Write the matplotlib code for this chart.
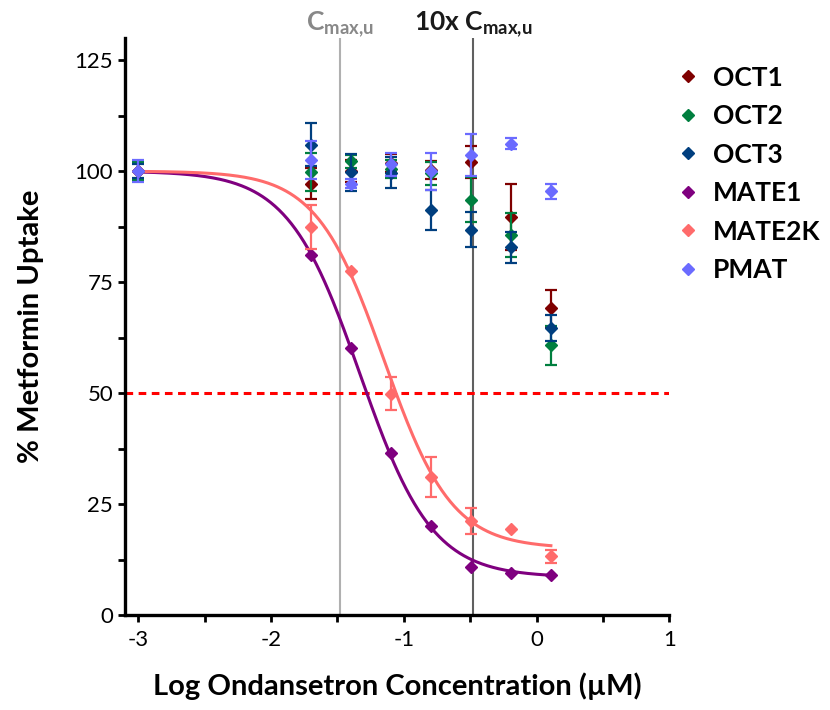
import numpy as np
import matplotlib
matplotlib.use("Agg")
import matplotlib.pyplot as plt
from matplotlib.lines import Line2D

plt.rcParams['font.family'] = ['Lato', 'DejaVu Sans']
plt.rcParams['mathtext.fontset'] = 'custom'
plt.rcParams['mathtext.rm'] = 'Lato'
plt.rcParams['mathtext.bf'] = 'Lato:bold'
plt.rcParams['mathtext.it'] = 'Lato:italic'

# log10 ondansetron concentration (uM)
log_conc = [-3.0, -1.699, -1.398, -1.097, -0.796, -0.495, -0.194, 0.107]

oct1 = [100.0, 97.2, 100.0, 101.9, 100.2, 102.0, 89.7, 69.1]
oct1_err = [2.0, 3.4, 2.5, 2.0, 2.0, 3.6, 7.5, 4.2]
oct2 = [100.0, 99.8, 102.2, 100.5, 99.5, 93.6, 85.6, 60.8]
oct2_err = [2.0, 4.3, 1.5, 2.0, 2.6, 5.0, 5.0, 4.4]
oct3 = [100.0, 106.0, 99.7, 99.6, 91.2, 86.8, 82.8, 64.7]
oct3_err = [1.5, 4.8, 4.2, 3.5, 4.5, 4.0, 3.5, 3.0]
mate1 = [100.0, 81.1, 60.1, 36.5, 20.0, 10.9, 9.5, 9.1]
mate1_err = [0, 0, 0, 0, 0, 0, 0, 0]
mate2k = [100.0, 87.4, 77.4, 49.9, 31.1, 21.2, 19.4, 13.2]
mate2k_err = [0, 5.0, 0, 3.8, 4.5, 3.0, 0, 1.5]
pmat = [100.0, 102.5, 97.2, 101.5, 100.0, 103.7, 106.2, 95.5]
pmat_err = [2.5, 4.2, 1.0, 2.5, 4.2, 4.7, 1.3, 1.7]

# 4PL fit parameters: top, bottom, logIC50, hill
mate1_fit = [100.0, 8.5, -1.33, 1.6]
mate2k_fit = [100.0, 15.0, -1.15, 1.7]

cmax_u = -1.48
cmax_10x = -0.48

names = ["OCT1", "OCT2", "OCT3", "MATE1", "MATE2K", "PMAT"]
colors = ["#7f0000", "#007f3f", "#003f7f", "#7f007f", "#ff6b6b", "#6b6bff"]
values = [oct1, oct2, oct3, mate1, mate2k, pmat]
errors = [oct1_err, oct2_err, oct3_err, mate1_err, mate2k_err, pmat_err]


def four_pl(x, top, bottom, logic50, hill):
    return bottom + (top - bottom) / (1 + 10 ** ((x - logic50) * hill))


fig = plt.figure(figsize=(8.3, 7.1), dpi=100)
ax = fig.add_axes([0.1506, 0.1338, 0.656, 0.8127])

ax.axvline(cmax_u, color="#b0b0b0", lw=1.5, zorder=1)
ax.axvline(cmax_10x, color="#606060", lw=1.5, zorder=1)
ax.axhline(50, color="red", lw=2.2, ls=(0, (2.5, 1.8)), zorder=2)

xs = np.linspace(log_conc[0], log_conc[-1], 300)
ax.plot(xs, four_pl(xs, *mate1_fit), color=colors[3], lw=2.2, zorder=3)
ax.plot(xs, four_pl(xs, *mate2k_fit), color=colors[4], lw=2.2, zorder=3)

for i in range(len(names)):
    err = np.array(errors[i], dtype=float)
    ax.errorbar(log_conc, values[i], yerr=np.where(err > 0, err, np.nan), fmt="D",
                color=colors[i], ms=6.5, elinewidth=1.6, capsize=4, capthick=1.6,
                zorder=4 + i)

ax.set_xlim(-3.1, 1.0)
ax.set_ylim(0, 130)
ax.set_xticks([-3, -2, -1, 0, 1])
ax.set_xticks([-2.5, -1.5, -0.5, 0.5], minor=True)
ax.set_yticks([0, 25, 50, 75, 100, 125])
ax.set_yticks([12.5, 37.5, 62.5, 87.5, 112.5], minor=True)
ax.set_xticklabels(["-3", "-2", "-1", "0", "1"])

for s in ["top", "right"]:
    ax.spines[s].set_visible(False)
for s in ["left", "bottom"]:
    ax.spines[s].set_linewidth(2.4)
ax.tick_params(which="both", direction="out", length=5, width=2, labelsize=16)
ax.tick_params(axis="x", pad=6)

ax.set_xlabel("Log Ondansetron Concentration (µM)", fontsize=21, fontweight="bold", labelpad=16)
ax.set_ylabel("% Metformin Uptake", fontsize=21, fontweight="bold", labelpad=22)

ax.text(cmax_u, 129.8, r"$\mathbf{C_{max{,}u}}$", color="#888888", fontsize=19,
        ha="center", va="bottom")
ax.text(cmax_10x, 129.8, r"10x $\mathbf{C_{max{,}u}}$", color="#1a1a1a", fontsize=19,
        fontweight="bold", ha="center", va="bottom")

handles = [Line2D([], [], marker="D", ls="none", color=c, ms=6.5) for c in colors]
fig.legend(handles, names, loc="upper left", bbox_to_anchor=(0.787, 0.941),
           frameon=False, prop={"weight": "bold", "size": 19},
           handlelength=0.8, handletextpad=0.55, labelspacing=0.55)

fig.savefig("out.png", dpi=100)
